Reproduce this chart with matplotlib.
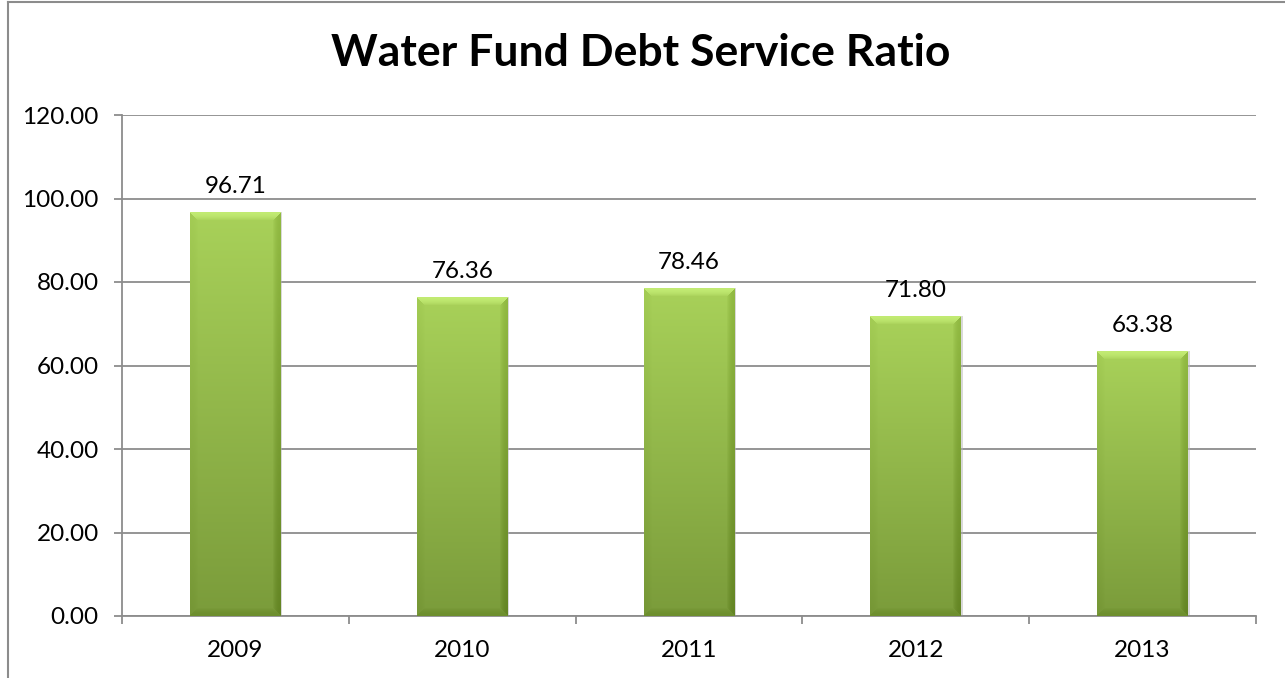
import matplotlib
matplotlib.use("Agg")
import matplotlib.pyplot as plt
import numpy as np
from matplotlib.lines import Line2D

plt.rcParams['font.family'] = ['Lato', 'DejaVu Sans']

years = ['2009', '2010', '2011', '2012', '2013']
ratios = [96.71, 76.36, 78.46, 71.80, 63.38]

W, H = 1285, 678
fig = plt.figure(figsize=(W / 100, H / 100), dpi=100)
ax = fig.add_axes([122 / W, 1 - 616 / H, (1256 - 122) / W, (616 - 115) / H])

x = np.arange(len(years))
bar_w = 0.4
fs = 17.5

# grid
ax.set_yticks(np.arange(0, 121, 20))
ax.set_yticklabels(['%.2f' % v for v in np.arange(0, 121, 20)], fontsize=fs)
ax.yaxis.grid(True, color='#8c8c8c', lw=1.3)
ax.set_axisbelow(True)
for s in ['top', 'right']:
    ax.spines[s].set_visible(False)
for s in ['left', 'bottom']:
    ax.spines[s].set_color('#8c8c8c')
    ax.spines[s].set_linewidth(1.3)
ax.tick_params(axis='y', length=5.8, width=1.3, color='#8c8c8c', pad=11)

# category labels at centers, tick marks at boundaries
ax.set_xticks(x)
ax.set_xticklabels(years, fontsize=fs)
ax.tick_params(axis='x', which='major', length=0, pad=17)
ax.set_xticks(np.arange(-0.5, len(years)), minor=True)
ax.tick_params(axis='x', which='minor', length=5.8, width=1.3, color='#8c8c8c')

top_c = np.array([0.66, 0.82, 0.35])
bot_c = np.array([0.48, 0.61, 0.23])
px_per_unit = (616 - 115) / 120.0
bar_px = bar_w * (1256 - 122) / 5


def bar_image(h_px, w_px, bev=8):
    h_px = max(int(round(h_px)), 2)
    w_px = max(int(round(w_px)), 2)
    t = np.linspace(0, 1, h_px)[:, None, None]
    img = top_c * (1 - t) + bot_c * t
    img = np.repeat(img, w_px, axis=1)
    yy, xx = np.mgrid[0:h_px, 0:w_px]
    d = np.stack([yy, h_px - 1 - yy, xx, w_px - 1 - xx])
    which = d.argmin(axis=0)
    dmin = d.min(axis=0)
    # top, bottom, left, right bevel faces
    shade = np.array([0.10, -0.05, -0.02, -0.09])
    amt = np.where(dmin < bev, shade[which] * (1 - (dmin / bev) ** 2), 0.0)
    img = np.clip(img + amt[..., None], 0, 1)
    return img


for xi, v in zip(x, ratios):
    # soft shadow behind each bar
    ax.bar(xi + 0.004, v, bar_w + 0.006, color='#b5b5b5', alpha=0.5, zorder=2.5, lw=0)
    img = bar_image(v * px_per_unit, bar_px)
    ax.imshow(img, extent=(xi - bar_w / 2, xi + bar_w / 2, 0, v),
              aspect='auto', zorder=3, interpolation='bilinear')
    ax.annotate('%.2f' % v, (xi, v), xytext=(0, 14), textcoords='offset points',
                ha='center', va='baseline', fontsize=fs, zorder=4)

ax.set_xlim(-0.5, len(years) - 0.5)
ax.set_ylim(0, 120)

fig.text(641 / W, 1 - 53 / H, 'Water Fund Debt Service Ratio', ha='center', va='center',
         fontsize=32, fontweight='bold')

# chart frame
fig.add_artist(Line2D([7.5 / W, 7.5 / W], [0, 1 - 1.5 / H], color='#8c8c8c', lw=1.5))
fig.add_artist(Line2D([7.5 / W, 1], [1 - 1.5 / H, 1 - 1.5 / H], color='#8c8c8c', lw=1.5))

fig.savefig('out.png', dpi=100)
